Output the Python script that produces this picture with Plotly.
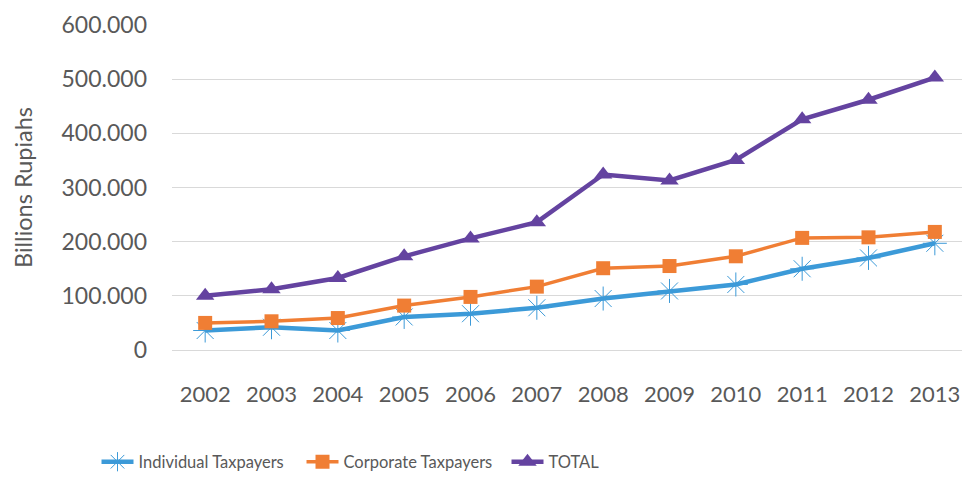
import plotly.graph_objects as go

years = ["2002", "2003", "2004", "2005", "2006", "2007", "2008", "2009", "2010", "2011", "2012", "2013"]
individual = [36000, 42000, 36000, 61000, 67000, 78000, 95000, 109000, 121000, 150000, 170000, 197000]
corporate = [50000, 53000, 59000, 82000, 98000, 117000, 151000, 155000, 173000, 207000, 208000, 218000]
total = [100000, 112000, 133000, 173000, 206000, 236000, 324000, 313000, 351000, 426000, 462000, 503000]
y_ticks = [0, 100000, 200000, 300000, 400000, 500000, 600000]

FONT = "Lato, Open Sans, sans-serif"
GREY = "#595959"

fig = go.Figure()
fig.add_trace(go.Scatter(
    x=years, y=individual, name="Individual Taxpayers", mode="lines+markers",
    line=dict(color="#3C9AD8", width=4.5),
    marker=dict(symbol="asterisk-open", size=20, color="#3C9AD8", line=dict(width=1, color="#3C9AD8")),
))
fig.add_trace(go.Scatter(
    x=years, y=corporate, name="Corporate Taxpayers", mode="lines+markers",
    line=dict(color="#F07E34", width=3.5),
    marker=dict(symbol="square", size=14, color="#F07E34"),
))
fig.add_trace(go.Scatter(
    x=years, y=total, name="TOTAL", mode="lines+markers",
    line=dict(color="#6443A0", width=4.5),
    marker=dict(symbol="triangle-up", size=16, color="#6443A0"),
))

fig.update_layout(
    width=962, height=469,
    margin=dict(l=164, r=2, t=12, b=127),
    paper_bgcolor="white", plot_bgcolor="white",
    separators=",.",
    font=dict(family=FONT, color=GREY, size=18),
    showlegend=True,
    legend=dict(orientation="h", xref="container", yref="container", x=0.092, xanchor="left",
                y=0.032, yanchor="middle", font=dict(size=16.5, color=GREY),
                itemwidth=32, tracegroupgap=0, entrywidth=158, entrywidthmode="pixels"),
    xaxis=dict(type="category", showgrid=False, showline=True, linecolor="#D9D9D9", linewidth=1,
               ticks="", ticklabelstandoff=25, tickfont=dict(size=22, color=GREY),
               range=[-0.5, 11.5]),
    yaxis=dict(range=[0, 600000], tickvals=y_ticks, tickformat=",d", showgrid=True,
               gridcolor="#D9D9D9", gridwidth=1, zeroline=False, showline=False, ticks="",
               ticklabeloverflow="allow",
               ticklabelstandoff=24, tickfont=dict(size=23, color=GREY),
               title=dict(text="Billions Rupiahs", font=dict(size=23.5, color=GREY), standoff=22)),
)

fig.write_html("out.html")
